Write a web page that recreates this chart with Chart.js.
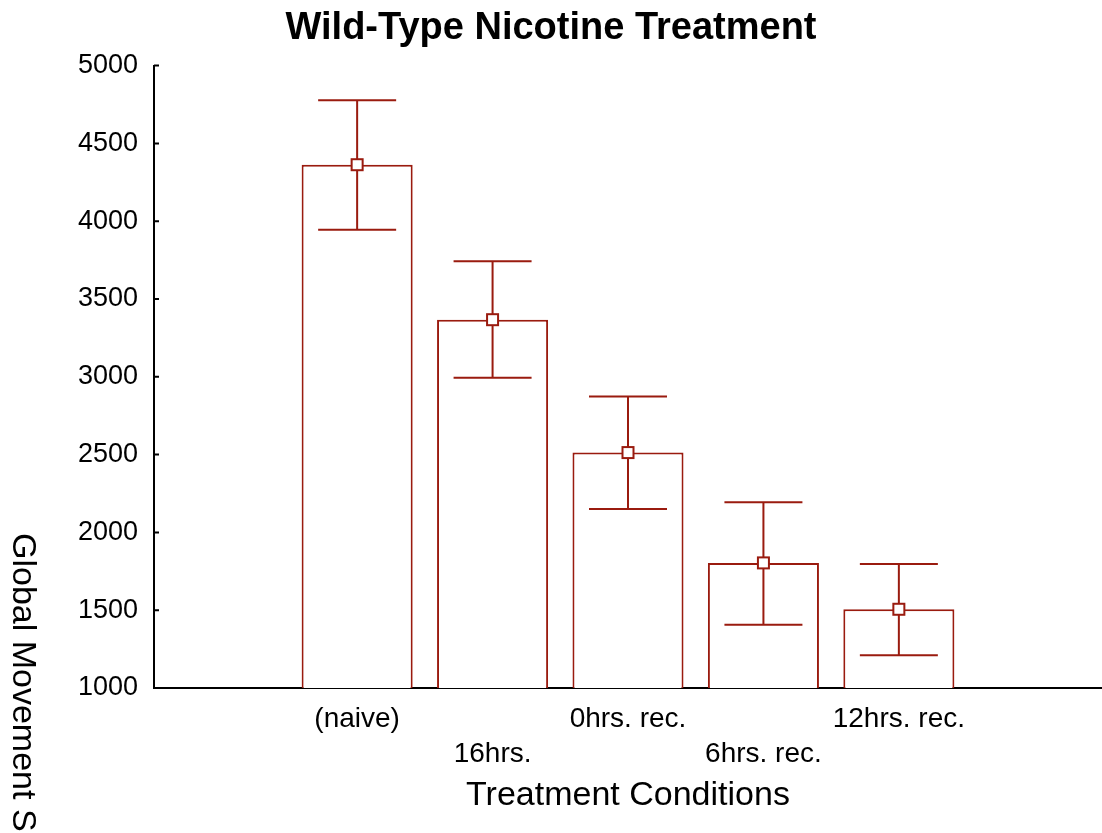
<!DOCTYPE html>
<html>
<head>
<meta charset="utf-8">
<title>Wild-Type Nicotine Treatment</title>
<script src="https://cdn.jsdelivr.net/npm/chart.js@4.4.1/dist/chart.umd.min.js"></script>
<style>
  html, body { margin: 0; padding: 0; background: #fff; }
  #wrap { width: 1102px; height: 833px; }
</style>
</head>
<body>
<div id="wrap"><canvas id="movementChart" width="1102" height="833"></canvas></div>
<script>
// empty slots on both ends, like the original plot
const conditions = ['', '(naive)', '16hrs.', '0hrs. rec.', '6hrs. rec.', '12hrs. rec.', ''];
const meanScore = [null, 4363, 3367, 2513, 1804, 1506, null];
const upperScore = [null, 4777, 3742, 2874, 2194, 1797, null];
const lowerScore = [null, 3945, 2994, 2151, 1407, 1210, null];
const yTicks = [1000, 1500, 2000, 2500, 3000, 3500, 4000, 4500, 5000];

const RED = '#9a1b0f';
const FONT = 'Arial, "Liberation Sans", sans-serif';

// whiskers + square marker on top of each bar
const errorBarPlugin = {
  id: 'errorBars',
  afterDatasetsDraw(chart) {
    const ctx = chart.ctx;
    const y = chart.scales.y;
    const meta = chart.getDatasetMeta(0);
    ctx.save();
    ctx.strokeStyle = RED;
    ctx.lineWidth = 2;
    meta.data.forEach((bar, i) => {
      if (meanScore[i] == null) return;
      const x = bar.x;
      const yHi = y.getPixelForValue(upperScore[i]);
      const yLo = y.getPixelForValue(lowerScore[i]);
      const yMid = y.getPixelForValue(meanScore[i]);
      const half = 39;
      ctx.beginPath();
      ctx.moveTo(x, yHi);
      ctx.lineTo(x, yLo);
      ctx.moveTo(x - half, yHi);
      ctx.lineTo(x + half, yHi);
      ctx.moveTo(x - half, yLo);
      ctx.lineTo(x + half, yLo);
      ctx.stroke();

      ctx.fillStyle = '#fff';
      ctx.fillRect(x - 5.5, yMid - 5.5, 11, 11);
      ctx.strokeRect(x - 5.5, yMid - 5.5, 11, 11);
    });
    ctx.restore();
  }
};

// inward tick marks on the y axis and the rotated y title
const axisExtras = {
  id: 'axisExtras',
  afterDraw(chart) {
    const ctx = chart.ctx;
    const y = chart.scales.y;
    const left = chart.chartArea.left;
    ctx.save();
    ctx.strokeStyle = '#000';
    ctx.lineWidth = 2;
    ctx.beginPath();
    y.ticks.forEach(t => {
      const py = y.getPixelForValue(t.value);
      ctx.moveTo(left, py);
      ctx.lineTo(left + 5, py);
    });
    ctx.stroke();

    ctx.translate(13, 533);
    ctx.rotate(Math.PI / 2);
    ctx.fillStyle = '#000';
    ctx.font = '34px ' + FONT;
    ctx.textAlign = 'left';
    ctx.textBaseline = 'alphabetic';
    ctx.fillText('Global Movement Score', 0, 0);
    ctx.restore();
  }
};

new Chart(document.getElementById('movementChart'), {
  type: 'bar',
  data: {
    labels: conditions,
    datasets: [{
      data: meanScore,
      backgroundColor: '#fff',
      borderColor: RED,
      borderWidth: 2,
      barPercentage: 0.82,
      categoryPercentage: 1.0
    }]
  },
  options: {
    responsive: false,
    animation: false,
    events: [],
    layout: { padding: 0 },
    plugins: {
      legend: { display: false },
      tooltip: { enabled: false },
      title: {
        display: true,
        text: 'Wild-Type Nicotine Treatment',
        color: '#000',
        font: { family: FONT, size: 38, weight: 'bold', lineHeight: 1.2 },
        padding: { top: 6, bottom: 14 }
      }
    },
    scales: {
      x: {
        grid: { display: false, drawTicks: false },
        border: { display: true, color: '#000', width: 2 },
        ticks: {
          color: '#000',
          padding: 14,
          maxRotation: 0,
          autoSkip: false,
          font: { family: FONT, size: 28, lineHeight: 1.25 },
          // stagger labels on two rows
          callback: (v, i) => (i % 2 === 1 ? [conditions[i]] : ['', conditions[i]])
        },
        title: {
          display: true,
          text: 'Treatment Conditions',
          color: '#000',
          font: { family: FONT, size: 34, lineHeight: 1.2 },
          padding: { top: 0, bottom: 17 }
        },
        afterFit(scale) { scale.height = 145; }
      },
      y: {
        min: 1000,
        max: 5000,
        grid: { display: false, drawTicks: false },
        border: { display: true, color: '#000', width: 2 },
        afterBuildTicks(scale) { scale.ticks = yTicks.map(v => ({ value: v })); },
        ticks: {
          color: '#000',
          padding: 16,
          font: { family: FONT, size: 27 },
          callback: v => String(v)
        },
        afterFit(scale) { scale.width = 154; }
      }
    }
  },
  plugins: [errorBarPlugin, axisExtras]
});
</script>
</body>
</html>
